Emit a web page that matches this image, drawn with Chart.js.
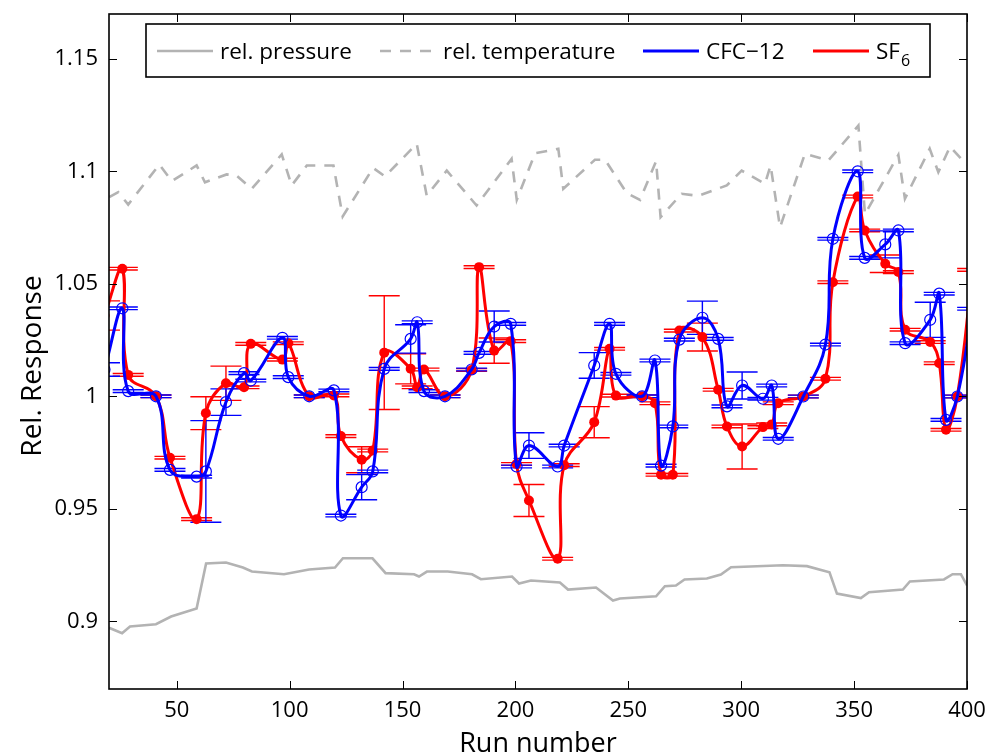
<!DOCTYPE html>
<html><head><meta charset="utf-8">
<script src="https://cdn.jsdelivr.net/npm/chart.js@4.4.1/dist/chart.umd.min.js"></script>
<style>html,body{margin:0;padding:0;background:#fff}#wrap{position:relative;width:987px;height:755px}</style>
</head><body><div id="wrap"><canvas id="c" width="987" height="755"></canvas></div>
<script>
// ---- data ----
const runs = [18,25.9,28.5,40.8,47.0,58.8,62.9,71.8,79.8,82.8,96.8,99.4,108.7,119.6,122.7,131.9,136.8,141.9,153.6,156.5,159.5,168.8,180.6,183.9,190.6,197.9,200.5,206.0,218.7,221.6,234.9,241.7,244.5,256.1,261.8,264.5,269.7,272.6,282.8,289.8,293.7,300.4,309.6,313.5,316.4,327.5,337.3,340.6,351.6,354.7,363.8,369.6,372.6,383.7,387.7,390.7,395.7,402.5];
const cfc12 = [1.012,1.0392,1.0024,1.0001,0.9674,0.9644,0.9667,0.9975,1.0104,1.0071,1.0261,1.0086,1.0001,1.0027,0.9471,0.9597,0.9667,1.0123,1.0256,1.033,1.0024,1.0001,1.012,1.0194,1.0311,1.0323,0.9689,0.9782,0.9689,0.9782,1.0138,1.0323,1.0101,1.0001,1.016,0.9693,0.9867,1.0253,1.035,1.0256,0.9956,1.0049,0.999,1.0049,0.9812,1.0,1.0231,1.0701,1.1001,1.0616,1.0676,1.0738,1.0237,1.0341,1.0457,0.9896,1.0,1.039];
const cfc12Err = [0.003,0.0006,0.0006,0.0006,0.0006,0.0006,0.0226,0.0059,0.0006,0.0006,0.0006,0.0006,0.0006,0.0006,0.0006,0.0056,0.0006,0.0006,0.0063,0.0006,0.0006,0.0006,0.0006,0.0006,0.0069,0.0006,0.0006,0.0057,0.0006,0.0006,0.0057,0.0006,0.0006,0.0006,0.0006,0.0006,0.0006,0.0006,0.0074,0.0006,0.0006,0.006,0.0006,0.0006,0.0006,0.0006,0.0006,0.0006,0.0006,0.0006,0.006,0.0006,0.0006,0.0078,0.0006,0.0006,0.0006,0.0006];
const sf6 = [1.036,1.0568,1.0096,1.0001,0.9728,0.9455,0.9926,1.0059,1.0041,1.0234,1.0164,1.0237,1.0001,1.0005,0.9824,0.9719,0.976,1.0195,1.0123,1.0041,1.012,1.0001,1.0118,1.0575,1.0204,1.0246,0.97,0.9538,0.9279,0.9695,0.9886,1.0212,1.0004,1.0001,0.997,0.9652,0.9652,1.0293,1.0264,1.003,0.9867,0.9778,0.9864,0.9876,0.997,1.0,1.0079,1.0508,1.0889,1.0738,1.059,1.0553,1.0297,1.0242,1.0148,0.9852,1.0,1.0563];
const sf6Err = [0.0065,0.0006,0.0006,0.0006,0.0006,0.0006,0.0073,0.0076,0.0006,0.0006,0.0006,0.0006,0.0006,0.0006,0.0006,0.0058,0.0006,0.0253,0.0067,0.0006,0.0006,0.0006,0.0006,0.0006,0.0056,0.0006,0.0006,0.0071,0.0006,0.0006,0.0069,0.0006,0.0006,0.0006,0.0006,0.0006,0.0006,0.0006,0.0062,0.0006,0.0006,0.01,0.0006,0.0006,0.0006,0.0006,0.0006,0.0006,0.0006,0.0006,0.0039,0.0006,0.0006,0.0006,0.0006,0.0006,0.0006,0.0006];
const pressureRuns = [20,25.8,29.3,40.8,47.5,58.8,63,71.8,79.3,83.3,97.5,108.6,120.1,123.6,136.7,142.5,155.1,157.3,160.8,170,180.8,184.7,198.5,201.6,206.9,219.7,223.3,235.7,243.2,246.3,262.3,266.2,271.1,274.9,284.8,291,295.5,318.5,329.1,339.1,342.4,353,356.6,371.6,374.7,389.8,393.6,397.3,400];
const pressure = [0.8972,0.8948,0.8978,0.8988,0.9022,0.9058,0.9258,0.9262,0.924,0.9222,0.921,0.9231,0.924,0.9281,0.9281,0.9215,0.921,0.92,0.9222,0.9222,0.921,0.9188,0.92,0.9169,0.9182,0.9173,0.9142,0.9151,0.9093,0.9102,0.9112,0.9157,0.916,0.9187,0.9191,0.9209,0.9241,0.925,0.9246,0.9219,0.9124,0.9104,0.913,0.9142,0.9178,0.9187,0.921,0.921,0.916];
const temperatureRuns = [20.1,24.1,28.5,42.3,47.8,58.8,62.5,72.1,76.5,83.2,96.5,100.9,107.6,119.4,123.5,137,142.2,156.3,160.7,169.6,182.8,198.3,200.6,208.7,219,221.2,235.2,239.7,249.3,255.2,262.3,264.3,273.6,281,293.6,300.2,310.5,313,317.2,328.2,338.6,351.9,354.8,369.6,372.5,383.5,387.3,392.5,398,400.5];
const temperature = [1.0886,1.0908,1.0853,1.1031,1.0957,1.1027,1.0952,1.0987,1.0982,1.0923,1.1076,1.0938,1.1027,1.1027,1.08,1.1016,1.0978,1.1123,1.0893,1.1004,1.0849,1.1056,1.0874,1.1081,1.1101,1.0923,1.1052,1.1052,1.0904,1.0874,1.1046,1.0797,1.0901,1.0892,1.0938,1.1004,1.0945,1.1027,1.0752,1.1079,1.1049,1.1204,1.081,1.1074,1.0879,1.1101,1.0997,1.1111,1.105,1.103];
const xTicks = [50,100,150,200,250,300,350,400];
const yTicks = [0.9,0.95,1,1.05,1.1,1.15];
const xRange = [20,400];
const yRange = [0.87,1.17];
const legendLabels = [['rel. pressure',''],['rel. temperature',''],['CFC\u221212',''],['SF','6']];
const xTitle = 'Run number';
const yTitle = 'Rel. Response';

// ---- styles ----
const BLUE = '#0000ff', RED = '#ff0000', GRAY = '#b3b3b3';
const FONT = "'Open Sans', sans-serif";
const CAP = 15.5;
const pts = (xs, ys) => xs.map((v, i) => ({x: v, y: ys[i]}));

const errPlugin = {
  id: 'errbars',
  beforeDatasetsDraw(chart) {
    const {ctx, chartArea: a, scales: {x, y}} = chart;
    ctx.save();
    ctx.beginPath(); ctx.rect(a.left, a.top, a.right - a.left, a.bottom - a.top); ctx.clip();
    [[sf6, sf6Err, RED], [cfc12, cfc12Err, BLUE]].forEach(([vals, errs, col]) => {
      ctx.strokeStyle = col; ctx.lineWidth = 1.4;
      runs.forEach((r, i) => {
        const px = x.getPixelForValue(r);
        const y1 = y.getPixelForValue(vals[i] - errs[i]);
        const y2 = y.getPixelForValue(vals[i] + errs[i]);
        ctx.beginPath();
        ctx.moveTo(px, y1); ctx.lineTo(px, y2);
        ctx.moveTo(px - CAP, y1); ctx.lineTo(px + CAP, y1);
        ctx.moveTo(px - CAP, y2); ctx.lineTo(px + CAP, y2);
        ctx.stroke();
      });
    });
    ctx.restore();
  }
};

const framePlugin = {
  id: 'frame',
  afterDatasetsDraw(chart) {
    const {ctx, chartArea: a, scales: {x, y}} = chart;
    ctx.save();
    ctx.strokeStyle = '#000'; ctx.lineWidth = 1;
    ctx.beginPath();
    xTicks.forEach(v => {
      const px = Math.round(x.getPixelForValue(v)) + 0.5;
      ctx.moveTo(px, a.bottom); ctx.lineTo(px, a.bottom - 8);
      ctx.moveTo(px, a.top); ctx.lineTo(px, a.top + 8);
    });
    yTicks.forEach(v => {
      const py = Math.round(y.getPixelForValue(v)) + 0.5;
      ctx.moveTo(a.left, py); ctx.lineTo(a.left + 8, py);
      ctx.moveTo(a.right, py); ctx.lineTo(a.right - 8, py);
    });
    ctx.stroke();
    ctx.lineWidth = 1.6;
    ctx.strokeRect(a.left, a.top, a.right - a.left, a.bottom - a.top);

    // legend
    const lx = 146, ly = 24, lw = 784, lh = 53, cy = 51;
    const sampleX = [157, 380, 643, 813];
    const styles = [[GRAY, []], [GRAY, [11, 9]], [BLUE, []], [RED, []]];
    const mainFont = '22.5px ' + FONT, subFont = '16px ' + FONT;
    ctx.fillStyle = '#fff';
    ctx.fillRect(lx, ly, lw, lh);
    ctx.lineWidth = 1.6; ctx.strokeStyle = '#000';
    ctx.strokeRect(lx, ly, lw, lh);
    legendLabels.forEach((lab, i) => {
      const sx = sampleX[i];
      ctx.strokeStyle = styles[i][0]; ctx.lineWidth = styles[i][0] === GRAY ? 2.6 : 3;
      ctx.setLineDash(styles[i][1]);
      ctx.beginPath(); ctx.moveTo(sx, cy); ctx.lineTo(sx + 56, cy); ctx.stroke();
      ctx.setLineDash([]);
      ctx.fillStyle = '#000'; ctx.textBaseline = 'alphabetic'; ctx.textAlign = 'left';
      ctx.font = mainFont;
      const tx = sx + 63;
      ctx.fillText(lab[0], tx, 59);
      if (lab[1]) {
        const w0 = ctx.measureText(lab[0]).width;
        ctx.font = subFont;
        ctx.fillText(lab[1], tx + w0 + 1, 66);
      }
    });

    // axis titles
    ctx.fillStyle = '#000';
    ctx.font = '27px ' + FONT;
    ctx.textAlign = 'center'; ctx.textBaseline = 'alphabetic';
    ctx.fillText(xTitle, (a.left + a.right) / 2, 752);
    ctx.font = '28px ' + FONT;
    ctx.save();
    ctx.translate(41, 366);
    ctx.rotate(-Math.PI / 2);
    ctx.fillText(yTitle, 0, 0);
    ctx.restore();
    ctx.restore();
  }
};

const noPad = s => { s.paddingLeft = 0; s.paddingRight = 0; s.paddingTop = 0; s.paddingBottom = 0; };

new Chart(document.getElementById('c'), {
  type: 'line',
  data: {
    datasets: [
      {label: 'rel. pressure', data: pts(pressureRuns, pressure), borderColor: GRAY, borderWidth: 2.6, pointRadius: 0, tension: 0, order: 4, clip: 0},
      {label: 'rel. temperature', data: pts(temperatureRuns, temperature), borderColor: GRAY, borderWidth: 2.6, borderDash: [11, 9], pointRadius: 0, tension: 0, order: 3, clip: 0},
      {label: 'CFC\u221212', data: pts(runs, cfc12), borderColor: BLUE, borderWidth: 3, tension: 0.4, pointRadius: 5.5, pointBorderWidth: 1.2, pointBorderColor: BLUE, pointBackgroundColor: 'rgba(0,0,0,0)', order: 1, clip: 0},
      {label: 'SF6', data: pts(runs, sf6), borderColor: RED, borderWidth: 3, tension: 0.4, pointRadius: 5, pointBorderWidth: 0, pointBackgroundColor: RED, order: 2, clip: 0}
    ]
  },
  options: {
    responsive: false, animation: false, devicePixelRatio: 1,
    layout: {padding: {top: 14, right: 20, left: 0, bottom: 0}},
    plugins: {legend: {display: false}, tooltip: {enabled: false}},
    scales: {
      x: {
        type: 'linear', min: xRange[0], max: xRange[1],
        afterBuildTicks: s => { s.ticks = xTicks.map(v => ({value: v})); },
        afterFit: s => { s.height = 66; noPad(s); },
        grid: {display: false, drawTicks: false}, border: {display: false},
        ticks: {autoSkip: false, maxRotation: 0, padding: 9, color: '#000', font: {family: FONT, size: 22}, callback: v => String(v)}
      },
      y: {
        type: 'linear', min: yRange[0], max: yRange[1],
        afterBuildTicks: s => { s.ticks = yTicks.map(v => ({value: v})); },
        afterFit: s => { s.width = 109; noPad(s); },
        grid: {display: false, drawTicks: false}, border: {display: false},
        ticks: {autoSkip: false, padding: 11, color: '#000', font: {family: FONT, size: 22}, callback: v => String(v)}
      }
    }
  },
  plugins: [errPlugin, framePlugin]
});
</script>
</body></html>
